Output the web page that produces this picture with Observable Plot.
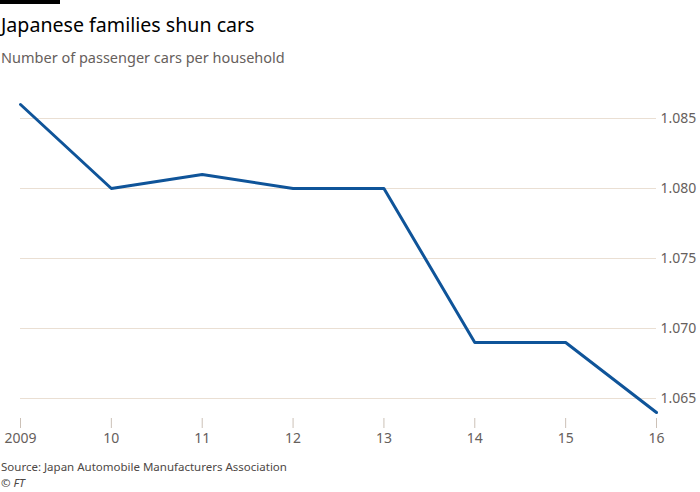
<!DOCTYPE html>
<html><head><meta charset="utf-8">
<script src="https://cdn.jsdelivr.net/npm/d3@7"></script>
<script src="https://cdn.jsdelivr.net/npm/@observablehq/plot@0.6"></script>
<style>
body{margin:0;background:#fff;font-family:"Noto Sans",sans-serif;width:700px;height:492px;position:relative;overflow:hidden}
#bar{position:absolute;left:0;top:0;width:60px;height:4px;background:#000}
#title{position:absolute;left:1px;top:11px;font-size:19.6px;color:#000;white-space:nowrap}
#sub{position:absolute;left:1px;top:47px;font-size:14.5px;color:#66605c;white-space:nowrap}
#chart{position:absolute;left:0;top:80px}
#src{position:absolute;left:1px;top:459px;font-size:11.5px;color:#4d4845;white-space:nowrap}
#ft{position:absolute;left:1px;top:475px;font-size:11.5px;color:#4d4845;font-style:italic}
</style></head>
<body>
<div id="bar"></div>
<div id="title">Japanese families shun cars</div>
<div id="sub">Number of passenger cars per household</div>
<div id="chart"></div>
<div id="src">Source: Japan Automobile Manufacturers Association</div>
<div id="ft">© FT</div>
<script>
const years = [2009, 2010, 2011, 2012, 2013, 2014, 2015, 2016];
const carsPerHousehold = [1.086, 1.080, 1.081, 1.080, 1.080, 1.069, 1.069, 1.064];
const yTicks = [1.065, 1.070, 1.075, 1.080, 1.085];
const data = years.map((y, i) => ({year: y, value: carsPerHousehold[i]}));

const chart = Plot.plot({
  width: 700,
  height: 368,
  marginLeft: 20,
  marginRight: 44,
  marginTop: 24,
  marginBottom: 30,
  insetBottom: 6,
  style: {fontFamily: "Noto Sans, sans-serif", fontSize: "14px", color: "#66605c", background: "transparent"},
  x: {domain: [2009, 2016]},
  y: {domain: [1.064, 1.086]},
  marks: [
    Plot.gridY(yTicks, {stroke: "#eadfd3", strokeOpacity: 1}),
    Plot.axisY(yTicks, {anchor: "right", tickSize: 0, tickPadding: 4, tickFormat: d3.format(".3f"), fill: "#66605c", fontSize: 14, label: null}),
    Plot.axisX(years, {tickSize: 10, tickPadding: 5, stroke: "#ccc1b7", fill: "#66605c", fontSize: 14, label: null,
      tickFormat: d => d === 2009 ? "2009" : String(d).slice(2)}),
    Plot.lineY(data, {x: "year", y: "value", stroke: "#0f5499", strokeWidth: 3})
  ]
});
document.getElementById("chart").appendChild(chart);
</script>
</body></html>
